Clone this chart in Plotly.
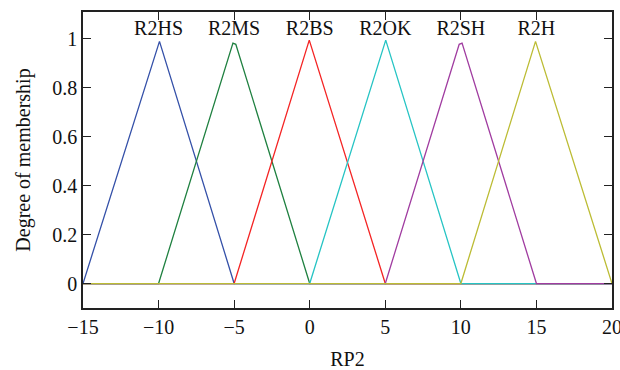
import plotly.graph_objects as go

# Membership function vertices (x, degree)
names = ["R2HS", "R2MS", "R2BS", "R2OK", "R2SH", "R2H"]
colors = ["#3450a8", "#1f8040", "#f42424", "#26c4c4", "#a03ca0", "#bcbc34"]

xs = [
    [-15, -15, -9.94, -5, 20],
    [-15, -10, -5.08, -4.89, 0, 20],
    [-15, -5, -0.03, 5, 20],
    [-15, 0, 5.03, 10, 20],
    [-15, 5, 9.89, 10.08, 15, 20],
    [-15, 10, 14.94, 20, 20],
]
ys = [
    [0, 0, 0.99, 0, 0],
    [0, 0, 0.983, 0.978, 0, 0],
    [0, 0, 0.995, 0, 0],
    [0, 0, 0.995, 0, 0],
    [0, 0, 0.978, 0.983, 0, 0],
    [0, 0, 0.99, 0, 0],
]
label_x = [-10, -5, 0, 5, 10, 15]
label_y = 1.035

x_ticks = [-15, -10, -5, 0, 5, 10, 15, 20]
y_ticks = [0, 0.2, 0.4, 0.6, 0.8, 1]

font = "Liberation Serif, Times New Roman, serif"
fsize = 20

fig = go.Figure()
for n, c, x, y in zip(names, colors, xs, ys):
    fig.add_trace(go.Scatter(x=x, y=y, mode="lines", name=n,
                             line=dict(color=c, width=1.3), hoverinfo="skip"))

fig.add_trace(go.Scatter(x=label_x, y=[label_y] * len(names), mode="text",
                         text=names, textposition="middle center",
                         textfont=dict(family=font, size=fsize, color="#111"),
                         hoverinfo="skip", cliponaxis=False))

axis_common = dict(showgrid=False, zeroline=False, showline=True, linecolor="#222",
                   linewidth=1.5, ticks="inside", ticklen=8, tickwidth=1.2,
                   tickcolor="#222", mirror="ticks", automargin=False,
                   ticklabeloverflow="allow",
                   tickfont=dict(family=font, size=fsize, color="#111"))

fig.update_layout(
    width=620, height=370,
    margin=dict(l=83, r=8, t=12, b=62),
    plot_bgcolor="white", paper_bgcolor="white",
    showlegend=False,
    xaxis=dict(range=[-15, 20], tickvals=x_ticks,
               title=dict(text="RP2", font=dict(family=font, size=fsize, color="#111"),
                          standoff=16),
               **axis_common),
    yaxis=dict(range=[-0.1, 1.11], tickvals=y_ticks,
               title=dict(text="Degree of membership",
                          font=dict(family=font, size=fsize, color="#111"), standoff=16),
               **axis_common),
)

fig.write_html("out.html")
